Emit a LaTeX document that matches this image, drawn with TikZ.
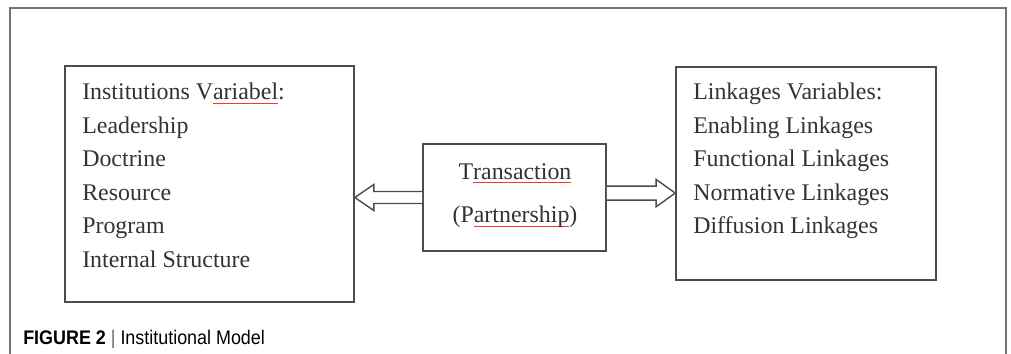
\documentclass[tikz,border=0pt]{standalone}
\usepackage{fontspec}
\setmainfont{Liberation Serif}
\newfontfamily\capfont{Liberation Sans}
\usepackage{xcolor}
\usepackage{graphicx}
\usepackage{tikz}
\usetikzlibrary{calc,positioning}

\newsavebox\spellbox
\newcommand{\spell}[1]{\sbox\spellbox{#1}\rlap{\color{red!80}\rule[-3pt]{\wd\spellbox}{0.7pt}}\usebox\spellbox}

\begin{document}
\begin{tikzpicture}[x=0.025cm, y=-0.025cm]
\tikzstyle{box}=[draw=black!70, line width=1.1pt, inner sep=0pt]
\tikzstyle{lst}=[inner sep=0pt, align=left, text=black!80, font=\fontsize{17}{23.8}\selectfont]
\tikzstyle{hollow}=[draw=black!70, line width=1pt, fill=white, line join=miter]
\tikzstyle{frame}=[draw=black!55, line width=0.8pt]

\useasboundingbox (0,0) rectangle (1011,354);
\draw[frame] (10,354) -- (10,8) -- (1006,8) -- (1006,354);

% the three boxes
\node[box, minimum width=7.225cm, minimum height=5.9cm] (inst) at (209.5,184) {};
\node[box, minimum width=4.575cm, minimum height=2.675cm] (tr) at (514.5,197.5) {};
\node[box, minimum width=6.5cm, minimum height=5.325cm] (lnk) at (806,173.5) {};

\node[lst, anchor=north west] (instTxt) at (82,83) {Institutions V\spell{ariabel}:\\Leadership\\Doctrine\\Resource\\Program\\Internal Structure};
\node[lst, anchor=north, align=center, font=\fontsize{17}{31}\selectfont] (trTxt) at (515,163) {T\spell{ransaction}\\(P\spell{artnership})};
\node[lst, anchor=north west] (lnkTxt) at (693,83) {Linkages Variables:\\Enabling Linkages\\Functional Linkages\\Normative Linkages\\Diffusion Linkages};

% block arrows
\draw[hollow] let \p1=(tr.west), \p2=(inst.east) in
  (\x1,\y1+0.15cm) -- (\x2+0.475cm,\y1+0.15cm) -- (\x2+0.475cm,\y1+0.325cm) -- (\x2,\y1)
  -- (\x2+0.475cm,\y1-0.325cm) -- (\x2+0.475cm,\y1-0.15cm) -- (\x1,\y1-0.15cm);
\draw[hollow] let \p1=([yshift=0.11cm]tr.east), \p2=(lnk.west) in
  (\x1,\y1+0.175cm) -- (\x2-0.475cm,\y1+0.175cm) -- (\x2-0.475cm,\y1+0.34cm) -- (\x2,\y1)
  -- (\x2-0.475cm,\y1-0.34cm) -- (\x2-0.475cm,\y1-0.175cm) -- (\x1,\y1-0.175cm);

\node[anchor=base west, inner sep=0pt, font=\capfont\fontsize{14}{16}\selectfont] (cap) at (23,344) {\scalebox{0.91}[1]{\textbf{FIGURE 2} {\color{black!60}|} Institutional Model}};
\end{tikzpicture}
\end{document}
